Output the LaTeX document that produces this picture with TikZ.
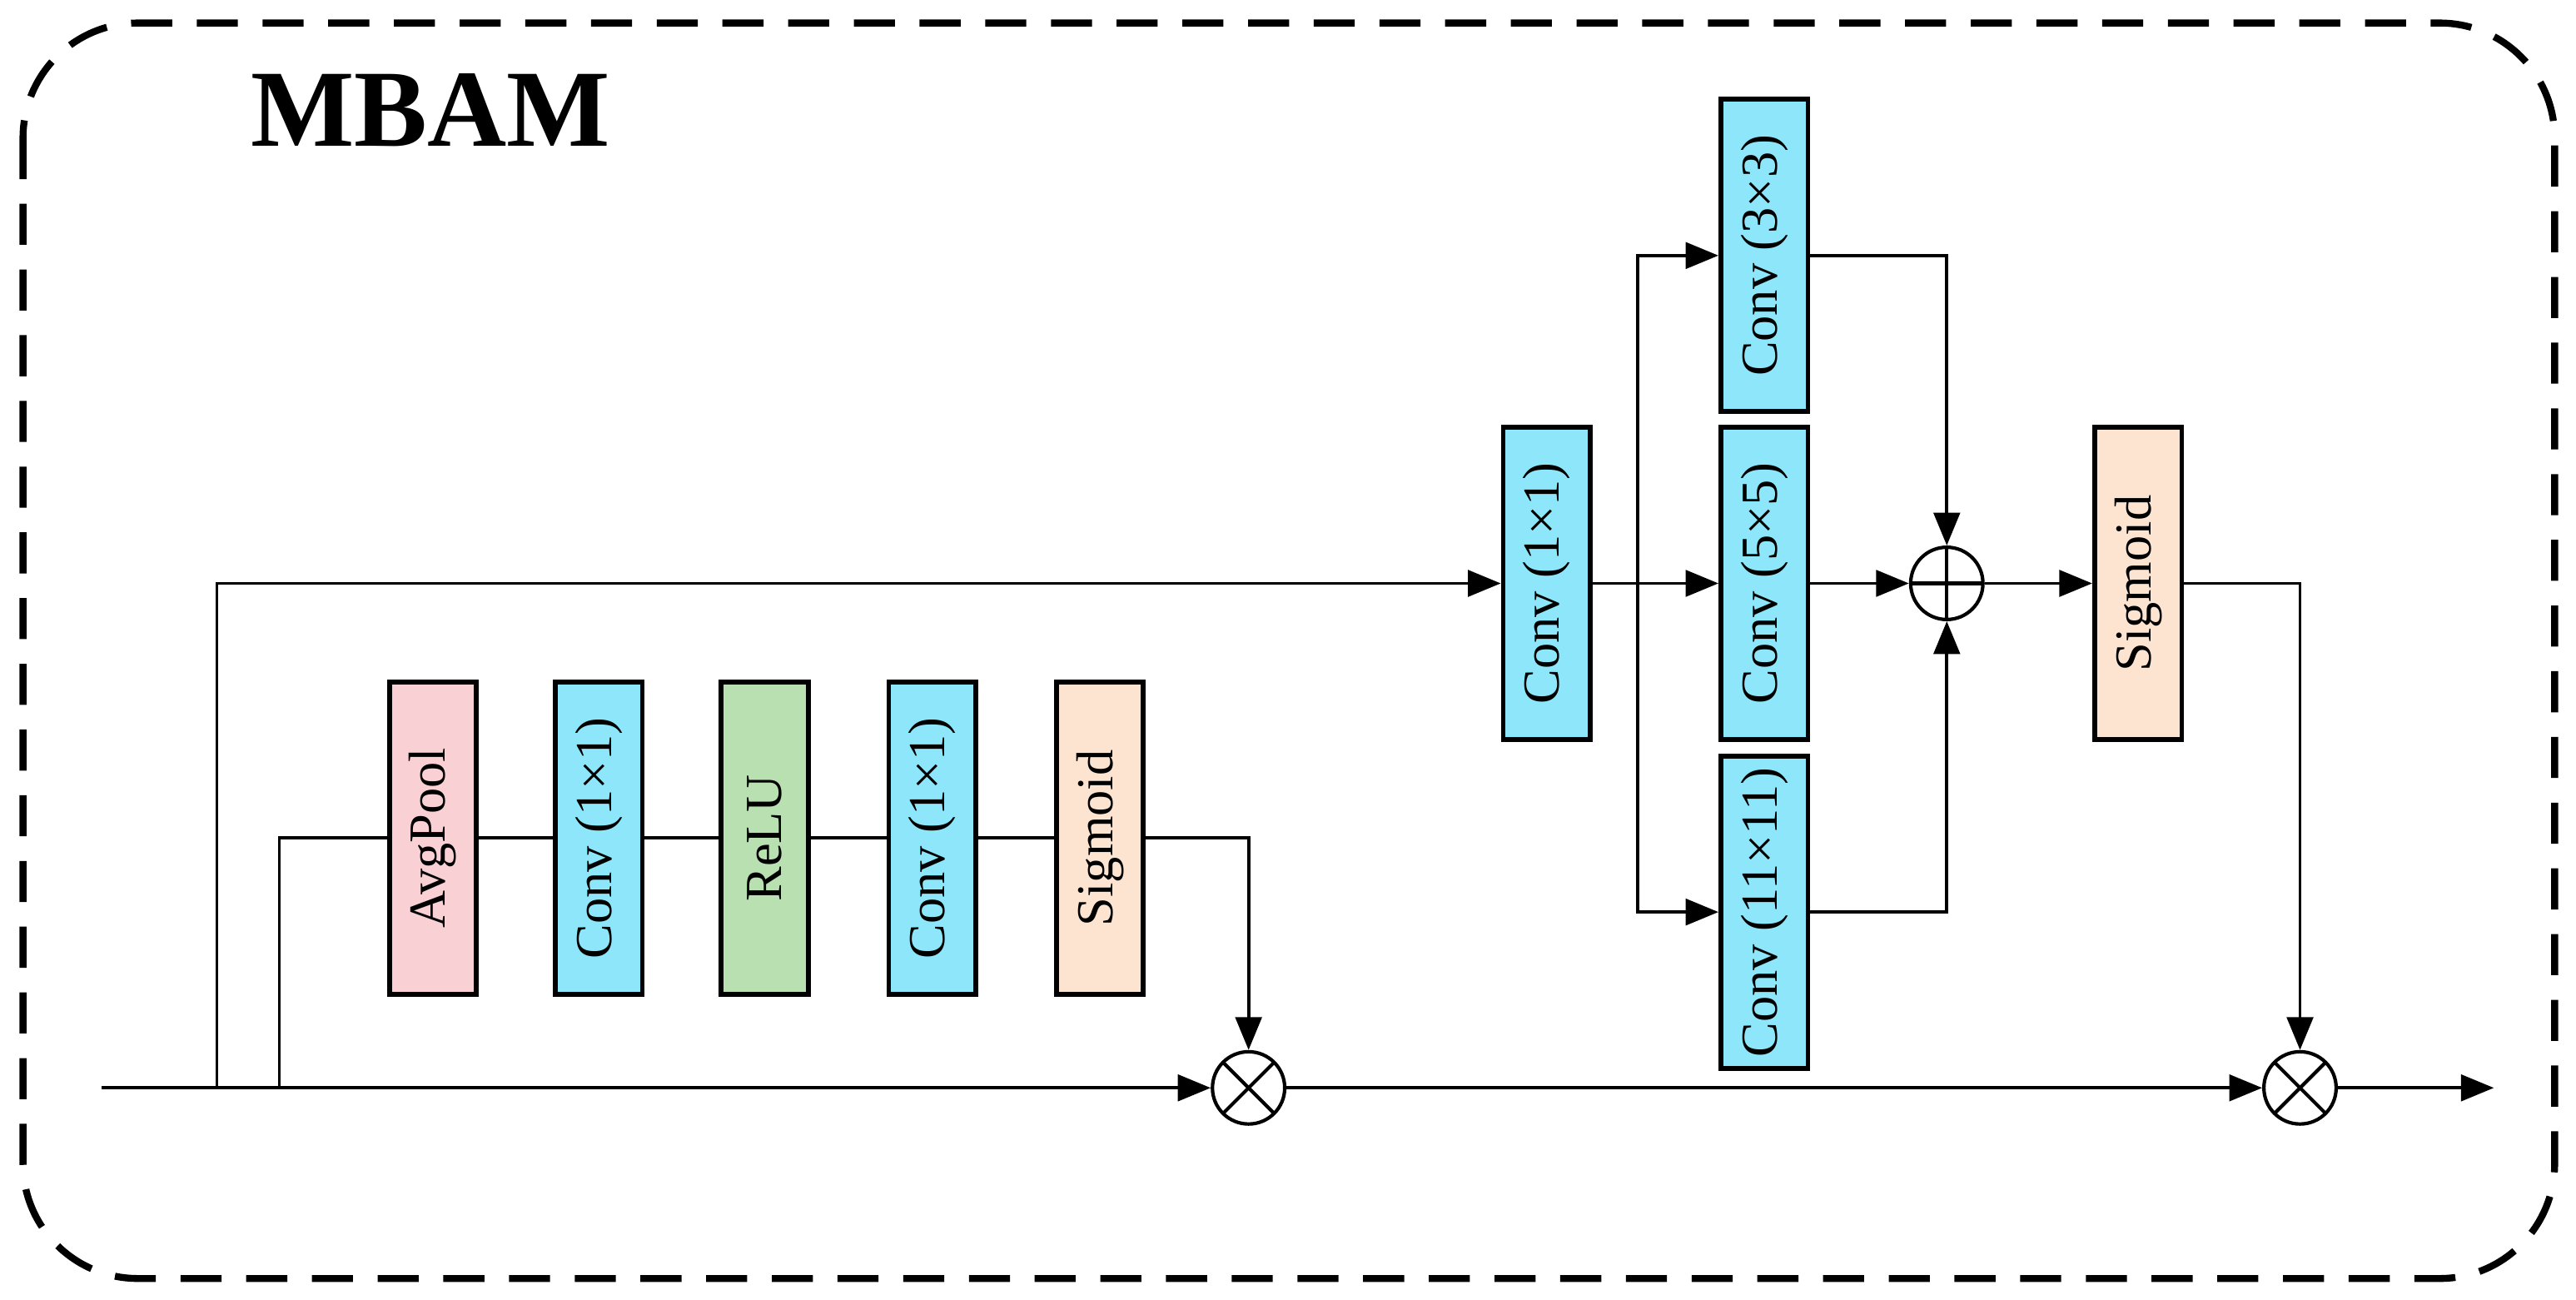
\documentclass[tikz,border=0pt]{standalone}
\usepackage{fontspec}
\setmainfont{Liberation Serif}
\usetikzlibrary{positioning, arrows.meta}
\definecolor{convColor}{HTML}{8EE6FA}
\definecolor{poolColor}{HTML}{F9D1D4}
\definecolor{reluColor}{HTML}{B9E0B1}
\definecolor{sigColor}{HTML}{FDE4D1}

\begin{document}
\begin{tikzpicture}[
  x=0.02cm, y=-0.02cm,
  block/.style={
    rectangle,
    draw=black,
    line width=1.7pt,
    rotate=90,
    minimum width=3.8cm,
    minimum height=1.06cm,
    inner sep=0pt,
    font=\fontsize{18}{20}\selectfont
  },
  op/.style={
    circle,
    draw=black,
    line width=1.2pt,
    minimum size=0.88cm,
    inner sep=0pt
  },
  times/.style={op, path picture={
    \draw[line width=1.2pt] (path picture bounding box.north west) -- (path picture bounding box.south east);
    \draw[line width=1.2pt] (path picture bounding box.north east) -- (path picture bounding box.south west);}},
  plus/.style={op, path picture={
    \draw[line width=1.2pt] (path picture bounding box.north) -- (path picture bounding box.south);
    \draw[line width=1.2pt] (path picture bounding box.west) -- (path picture bounding box.east);}},
  line/.style={line width=1.1pt},
  arrow/.style={line, -{Triangle[length=0.4cm, width=0.32cm]}}
]
  \useasboundingbox (0,0) rectangle (1568,790.7);
  % frame and title
  \draw[line width=2.4pt, dash pattern=on 0.5cm off 0.3cm, rounded corners=1.4cm] (14,14) rectangle (1555,778);
  \node[font=\fontsize{38}{40}\selectfont\bfseries] (title) at (262,67) {MBAM};

  % channel branch
  \node[block, fill=poolColor] (pool) at (263.5,510) {AvgPool};
  \node[block, fill=convColor] (conva) at (364.5,510) {Conv (1×1)};
  \node[block, fill=reluColor] (relu) at (465.5,510) {ReLU};
  \node[block, fill=convColor] (convb) at (567.5,510) {Conv (1×1)};
  \node[block, fill=sigColor] (siga) at (669.5,510) {Sigmoid};

  % multi-scale branch
  \node[block, fill=convColor] (conv0) at (941.5,355) {Conv (1×1)};
  \node[block, fill=convColor] (conv3) at (1074,155.5) {Conv (3×3)};
  \node[block, fill=convColor] (conv5) at (1074,355) {Conv (5×5)};
  \node[block, fill=convColor] (conv11) at (1074,555) {Conv (11×11)};
  \node[plus] (add) at (1185,355) {};
  \node[block, fill=sigColor] (sigb) at (1301.5,355) {Sigmoid};

  % main path
  \node[times] (mula) at (760,662) {};
  \node[times] (mulb) at (1400,662) {};
  \coordinate (in) at (62,662);
  \coordinate (tapa) at (132,662);
  \coordinate (tapb) at (170,662);
  \coordinate (split) at (997,355);
  \coordinate (out) at (1518,662);

  % Connect nodes with arrows
  \draw[arrow] (in) -- (mula);
  \draw[arrow] (mula) -- (mulb);
  \draw[arrow] (mulb) -- (out);
  \draw[line] (tapb) |- (pool);
  \draw[line] (pool) -- (conva);
  \draw[line] (conva) -- (relu);
  \draw[line] (relu) -- (convb);
  \draw[line] (convb) -- (siga);
  \draw[arrow] (siga) -| (mula);
  \draw[arrow] (tapa) |- (conv0);
  \draw[line] (conv0) -- (split);
  \draw[arrow] (split) |- (conv3);
  \draw[arrow] (split) -- (conv5);
  \draw[arrow] (split) |- (conv11);
  \draw[arrow] (conv3) -| (add);
  \draw[arrow] (conv5) -- (add);
  \draw[arrow] (conv11) -| (add);
  \draw[arrow] (add) -- (sigb);
  \draw[arrow] (sigb) -| (mulb);
\end{tikzpicture}
\end{document}
